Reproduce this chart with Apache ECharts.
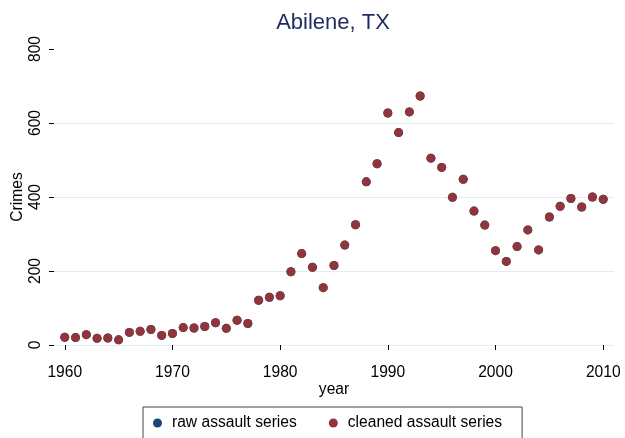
<!DOCTYPE html>
<html>
<head>
<meta charset="utf-8">
<script src="https://cdn.jsdelivr.net/npm/echarts@6/dist/echarts.min.js"></script>
<style>
html,body{margin:0;padding:0;background:#fff;}
#chart{width:625px;height:438px;}
</style>
</head>
<body>
<div id="chart"></div>
<script>
const years = [1960,1961,1962,1963,1964,1965,1966,1967,1968,1969,
  1970,1971,1972,1973,1974,1975,1976,1977,1978,1979,
  1980,1981,1982,1983,1984,1985,1986,1987,1988,1989,
  1990,1991,1992,1993,1994,1995,1996,1997,1998,1999,
  2000,2001,2002,2003,2004,2005,2006,2007,2008,2009,2010];
const cleanedValues = [21,20,28,18,19,14,34,37,42,26,
  31,47,46,50,60,45,67,58,121,129,
  133,198,247,210,155,215,270,325,441,490,
  627,574,630,673,505,480,399,448,362,324,
  255,226,266,311,257,346,375,396,373,400,394];
const rawValues = [21,20,28,18,19,14,34,37,42,26,
  31,47,46,50,60,45,67,58,121,129,
  133,198,247,210,155,215,270,325,441,490,
  627,574,630,673,505,480,399,448,362,324,
  255,226,266,311,257,346,375,396,373,400,394];
const xTicks = [1960,1970,1980,1990,2000,2010];
const yTicks = [0,200,400,600,800];

const FONT = 'Liberation Sans, Arial, Helvetica, sans-serif';
const chart = echarts.init(document.getElementById('chart'), null, {renderer:'canvas'});
chart.setOption({
  animation:false,
  backgroundColor:'#ffffff',
  title:{
    text:'Abilene, TX',
    left:328, top:7, textAlign:'center',
    textStyle:{fontFamily:FONT, fontSize:22, fontWeight:'normal', color:'#1c2d5e'}
  },
  grid:{left:54, right:11, top:49, bottom:93, containLabel:false, outerBoundsMode:'none'},
  legend:{
    left:143, top:407,
    orient:'horizontal',
    padding:[8,20,20,10],
    itemGap:32,
    itemWidth:19, itemHeight:9,
    borderColor:'#444', borderWidth:1,
    icon:'circle',
    textStyle:{fontFamily:FONT, fontSize:15.6, color:'#000'},
    data:['raw assault series','cleaned assault series']
  },
  xAxis:{
    type:'value', min:1959, max:2011,
    offset:9,
    name:'year', nameLocation:'middle', nameGap:28, nameMoveOverlap:false,
    nameTextStyle:{fontFamily:FONT, fontSize:15.6, color:'#000'},
    axisLine:{show:false},
    axisTick:{show:true, length:5, customValues:xTicks, lineStyle:{color:'#000', width:1}},
    axisLabel:{customValues:xTicks, margin:11, fontFamily:FONT, fontSize:15.6, color:'#000',
      formatter:function(v){ return String(v); }},
    splitLine:{show:false}
  },
  yAxis:{
    type:'value', min:0, max:800, interval:200,
    name:'Crimes', nameLocation:'middle', nameGap:28, nameRotate:90, nameMoveOverlap:false,
    nameTextStyle:{fontFamily:FONT, fontSize:15.6, color:'#000'},
    axisLine:{show:false},
    axisTick:{show:true, length:5, lineStyle:{color:'#000', width:1}},
    axisLabel:{rotate:90, margin:10, fontFamily:FONT, fontSize:15.6, color:'#000',
      formatter:function(v){ return yTicks.indexOf(v) >= 0 ? String(v) : ''; }},
    splitLine:{show:true, showMaxLine:false, lineStyle:{color:'#e3ecee', width:1}}
  },
  series:[
    {
      name:'raw assault series', type:'scatter',
      data:years.map((y,i)=>[y, rawValues[i]]),
      symbol:'circle', symbolSize:9,
      itemStyle:{color:'#1a476f', opacity:1}
    },
    {
      name:'cleaned assault series', type:'scatter',
      data:years.map((y,i)=>[y, cleanedValues[i]]),
      symbol:'circle', symbolSize:9,
      itemStyle:{color:'#90353b', opacity:1}
    }
  ]
});
</script>
</body>
</html>
